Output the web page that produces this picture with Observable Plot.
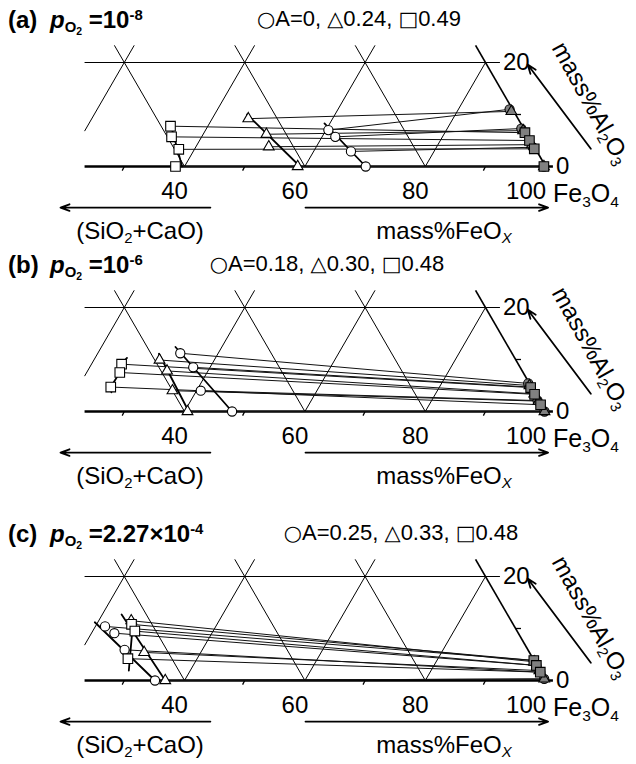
<!DOCTYPE html>
<html><head><meta charset="utf-8">
<script src="https://cdn.jsdelivr.net/npm/d3@7"></script>
<script src="https://cdn.jsdelivr.net/npm/@observablehq/plot@0.6"></script>
<style>
html,body{margin:0;padding:0;background:#fff}
#fig{position:relative;width:636px;height:764px;overflow:hidden;font-family:"Liberation Sans",Arial,Helvetica,sans-serif;color:#000}
.panel{position:absolute;left:0;width:636px;height:250px}
.panel svg{position:absolute;left:0;top:0;overflow:visible}
.lbl{position:absolute;white-space:nowrap;line-height:1}
.lbl sub,.lbl sup{font-size:0.62em;line-height:0;position:relative;vertical-align:baseline}
.lbl sub{bottom:-0.3em}
.lbl sup{top:-0.55em}
.sym{font-family:"DejaVu Sans";font-size:0.95em}
</style></head><body><div id="fig"></div><script>
// ---------------- data ----------------
const panelLetters = ["(a)", "(b)", "(c)"];
const pO2Mantissa = ["", "", "2.27\u00d7"];
const pO2Exponent = ["-8", "-6", "-4"];
const legendCircle = ["0", "0.18", "0.25"];
const legendTriangle = ["0.24", "0.30", "0.33"];
const legendSquare = ["0.49", "0.48", "0.48"];
const feoxTicks = [40, 60, 80, 100];
const feoxMinorTicks = [30, 50, 70, 90];
const feoxGrid = [20, 40, 60, 80];      // constant mass%FeOx lines
const silicaGrid = [40, 60, 80];        // constant (SiO2+CaO) lines, given by FeOx at the base
const aluminaTicks = [0, 20];
const aluminaMinorTicks = [10];

// compositions as [mass% FeOx, mass% Al2O3]
// panel (a)
const aCircleLiquid = [[60.4, 7.0], [62.2, 5.7], [66.2, 2.9], [70.1, 0]];
const aCircleSolid = [[88.5, 11.0], [92.3, 7.3], [96.0, 3.7], [99.7, 0]];
const aTriangleLiquid = [[46.0, 9.2], [50.5, 6.2], [52.1, 3.8], [58.8, 0]];
const aTriangleSolid = [[89.0, 10.6], [92.8, 6.9], [95.6, 4.2], [99.7, 0]];
const aSquareLiquid = [[33.8, 7.75], [35.0, 5.7], [37.4, 3.3], [38.5, 0]];
const aSquareSolid = [[93.3, 6.5], [94.8, 5.0], [96.4, 3.4], [99.7, 0]];
const aCircleBoundary = [[59.1, 8.3], [70.1, 0]];
const aTriangleBoundary = [[45.4, 10.0], [59.2, 0]];
const aSquareBoundary = [[33.5, 8.3], [39.6, 0]];
// panel (b)
const bCircleLiquid = [[33.7, 11.2], [37.2, 8.5], [40.7, 4.0], [47.9, 0]];
const bCircleSolid = [[94.4, 5.4], [95.1, 4.7], [97.6, 2.1], [99.8, 0]];
const bTriangleLiquid = [[30.9, 9.9], [33.2, 7.8], [36.0, 4.0], [40.5, 0]];
const bTriangleSolid = [[94.8, 5.0], [96.4, 3.4], [97.8, 2.0], [99.8, 0]];
const bSquareLiquid = [[25.0, 9.1], [25.5, 7.5], [25.4, 4.7]];
const bSquareSolid = [[95.2, 4.6], [96.5, 3.3], [98.5, 1.3]];
const bCircleBoundary = [[32.3, 12.4], [47.9, 0]];
const bTriangleBoundary = [[30.2, 11.1], [40.7, 0]];
const bSquareBoundary = [[25.3, 10.3], [25.0, 9.1], [25.5, 7.5], [25.4, 4.7], [26.0, 3.7]];
// panel (c)
const cCircleLiquid = [[21.6, 10.4], [23.8, 9.1], [27.1, 5.9], [35.1, 0]];
const cCircleSolid = [[96.1, 3.85], [97.0, 2.9], [98.3, 1.6], [99.6, 0.3]];
const cTriangleLiquid = [[25.4, 11.5], [30.6, 5.4], [36.8, 0]];
const cTriangleSolid = [[96.3, 3.6], [98.0, 1.9], [99.6, 0.3]];
const cSquareLiquid = [[25.8, 10.8], [27.0, 9.5], [28.5, 4.2]];
const cSquareSolid = [[96.1, 3.85], [97.0, 2.9], [98.3, 1.6]];
const cCircleBoundary = [[19.5, 11.2], [35.1, 0]];
const cTriangleBoundary = [[23.2, 12.7], [36.8, 0]];
const cSquareBoundary = [[25.55, 11.9], [29.8, 1.9]];

const panels = [
  {circle: [aCircleLiquid, aCircleSolid, aCircleBoundary], triangle: [aTriangleLiquid, aTriangleSolid, aTriangleBoundary], square: [aSquareLiquid, aSquareSolid, aSquareBoundary]},
  {circle: [bCircleLiquid, bCircleSolid, bCircleBoundary], triangle: [bTriangleLiquid, bTriangleSolid, bTriangleBoundary], square: [bSquareLiquid, bSquareSolid, bSquareBoundary]},
  {circle: [cCircleLiquid, cCircleSolid, cCircleBoundary], triangle: [cTriangleLiquid, cTriangleSolid, cTriangleBoundary], square: [cSquareLiquid, cSquareSolid, cSquareBoundary]}
];
const panelTops = [0, 245, 514];
const legendCenters = [359, 327, 401];

// ---------------- drawing ----------------
const FONT = '"Liberation Sans", Arial, Helvetica, sans-serif';
const UMIN = 23.4, VMAX = 23.3;   // visible window of the ternary section
// ternary projection: u = FeOx + Al2O3/2 , v = Al2O3
const P = ([f, a]) => ({u: f + a / 2, v: a});
const fig = document.getElementById("fig");

function label(parent, html, x, y, o = {}) {
  const d = document.createElement("div");
  d.className = "lbl";
  d.innerHTML = html;
  d.style.left = x + "px";
  d.style.top = y + "px";
  d.style.fontSize = (o.size || 24) + "px";
  if (o.weight) d.style.fontWeight = o.weight;
  const tx = o.anchor === "end" ? "-100%" : o.anchor === "middle" ? "-50%" : "0";
  d.style.transform = `translate(${tx},-50%)` + (o.rotate ? ` rotate(${o.rotate}deg)` : "");
  parent.appendChild(d);
}

panels.forEach((pd, i) => {
  const div = document.createElement("div");
  div.className = "panel";
  div.style.top = panelTops[i] + "px";
  fig.appendChild(div);

  const grid = [];
  for (const f of feoxGrid) {
    const vTop = f >= 80 ? 20 : VMAX;
    const v0 = Math.max(0, 2 * (UMIN - f));
    grid.push({u1: f + v0 / 2, v1: v0, u2: f + vTop / 2, v2: vTop});
  }
  for (const s of silicaGrid) grid.push({u1: s, v1: 0, u2: s - VMAX / 2, v2: VMAX});
  grid.push({u1: UMIN, v1: 20, u2: 92.4, v2: 20});
  const minor = feoxMinorTicks.map(t => ({u1: t, v1: 0, u2: t - 0.35, v2: -0.8}))
    .concat(aluminaMinorTicks.map(a => ({u1: 100 - a / 2, v1: a, u2: 100 - a / 2 + 0.9, v2: a})));
  const edge = [{u1: 100, v1: 0, u2: 100 - VMAX / 2, v2: VMAX}];
  const base = [{u1: UMIN, v1: 0, u2: 101.2, v2: 0}];

  const marks = [
    Plot.link(grid, {x1: "u1", y1: "v1", x2: "u2", y2: "v2", stroke: "#000", strokeWidth: 1}),
    Plot.link(minor, {x1: "u1", y1: "v1", x2: "u2", y2: "v2", stroke: "#000", strokeWidth: 1.3}),
    Plot.link(edge, {x1: "u1", y1: "v1", x2: "u2", y2: "v2", stroke: "#000", strokeWidth: 1.7}),
    Plot.link(base, {x1: "u1", y1: "v1", x2: "u2", y2: "v2", stroke: "#000", strokeWidth: 2.3})
  ];
  const sym = {circle: ["circle", 4.6], triangle: ["triangle", 4.0], square: ["square", 5.4]};
  for (const key of ["circle", "triangle", "square"]) {
    const [liq, sol] = pd[key];
    const ties = liq.map((l, j) => {const a = P(l), b = P(sol[j]); return {u1: a.u, v1: a.v, u2: b.u, v2: b.v};});
    marks.push(Plot.link(ties, {x1: "u1", y1: "v1", x2: "u2", y2: "v2", stroke: "#111", strokeWidth: 1}));
  }
  for (const key of ["circle", "triangle", "square"]) {
    marks.push(Plot.line(pd[key][2].map(P), {x: "u", y: "v", stroke: "#000", strokeWidth: 1.8}));
  }
  for (const key of ["circle", "triangle", "square"]) {
    const [liq, sol] = pd[key];
    const [s, r] = sym[key];
    marks.push(Plot.dot(liq.map(P), {x: "u", y: "v", symbol: s, r, fill: "#fff", stroke: "#000", strokeWidth: 1.1}));
    marks.push(Plot.dot(sol.map(P), {x: "u", y: "v", symbol: s, r, fill: "#808080", stroke: "#000", strokeWidth: 1.1}));
  }
  // axis numbers
  marks.push(Plot.text(feoxTicks, {x: d => d - (d >= 100 ? 1.6 : 0), y: () => 0, text: d => String(d), textAnchor: "middle", dx: -10, dy: 25, fontSize: 24}));
  marks.push(Plot.text(aluminaTicks, {x: d => (d === 0 ? 101.2 : 92.4), y: d => d, text: d => String(d), textAnchor: "start", dx: 3, fontSize: 24}));
  // arrows
  marks.push(Plot.arrow([{x1: 44.3, x2: 19.4, y: -7.9}, {x1: 60.1, x2: 100.4, y: -7.9}],
    {x1: "x1", x2: "x2", y1: "y", y2: "y", stroke: "#000", strokeWidth: 1.8, headLength: 8, headAngle: 40}));
  marks.push(Plot.arrow([{x1: 107.5, y1: 3.4, x2: 97.0, y2: 19.6}],
    {x1: "x1", y1: "y1", x2: "x2", y2: "y2", stroke: "#000", strokeWidth: 1.8, headLength: 8, headAngle: 40}));

  const svg = Plot.plot({
    width: 636, height: 250, margin: 0,
    x: {type: "linear", domain: [40, 100], range: [184, 545.2], axis: null},
    y: {type: "linear", domain: [0, 20], range: [166, 62], axis: null},
    style: {background: "transparent", fontFamily: FONT, overflow: "visible"},
    marks
  });
  div.appendChild(svg);

  // rich labels
  label(div, panelLetters[i], 8, 20, {size: 24, weight: "bold"});
  label(div, `<i>p</i><sub>O<sub style="font-size:0.7em;bottom:-0.25em">2</sub></sub> =${pO2Mantissa[i]}10<sup>${pO2Exponent[i]}</sup>`, 50, 20, {size: 24, weight: "bold"});
  const leg = `<span class="sym">\u25CB</span>A=${legendCircle[i]}, <span class="sym">\u25B3</span>${legendTriangle[i]}, <span class="sym">\u25A1</span>${legendSquare[i]}`;
  label(div, leg, legendCenters[i], 19, {size: 22, anchor: "middle"});
  label(div, "Fe<sub>3</sub>O<sub>4</sub>", 553, 193, {size: 25});
  label(div, "(SiO<sub>2</sub>+CaO)", 140, 231, {size: 24, anchor: "middle"});
  label(div, "mass%FeO<sub><i>X</i></sub>", 444, 231, {size: 24, anchor: "middle"});
  label(div, "mass%Al<sub>2</sub>O<sub>3</sub>", 591, 103, {size: 24, anchor: "middle", rotate: 61});
});
</script></body></html>
